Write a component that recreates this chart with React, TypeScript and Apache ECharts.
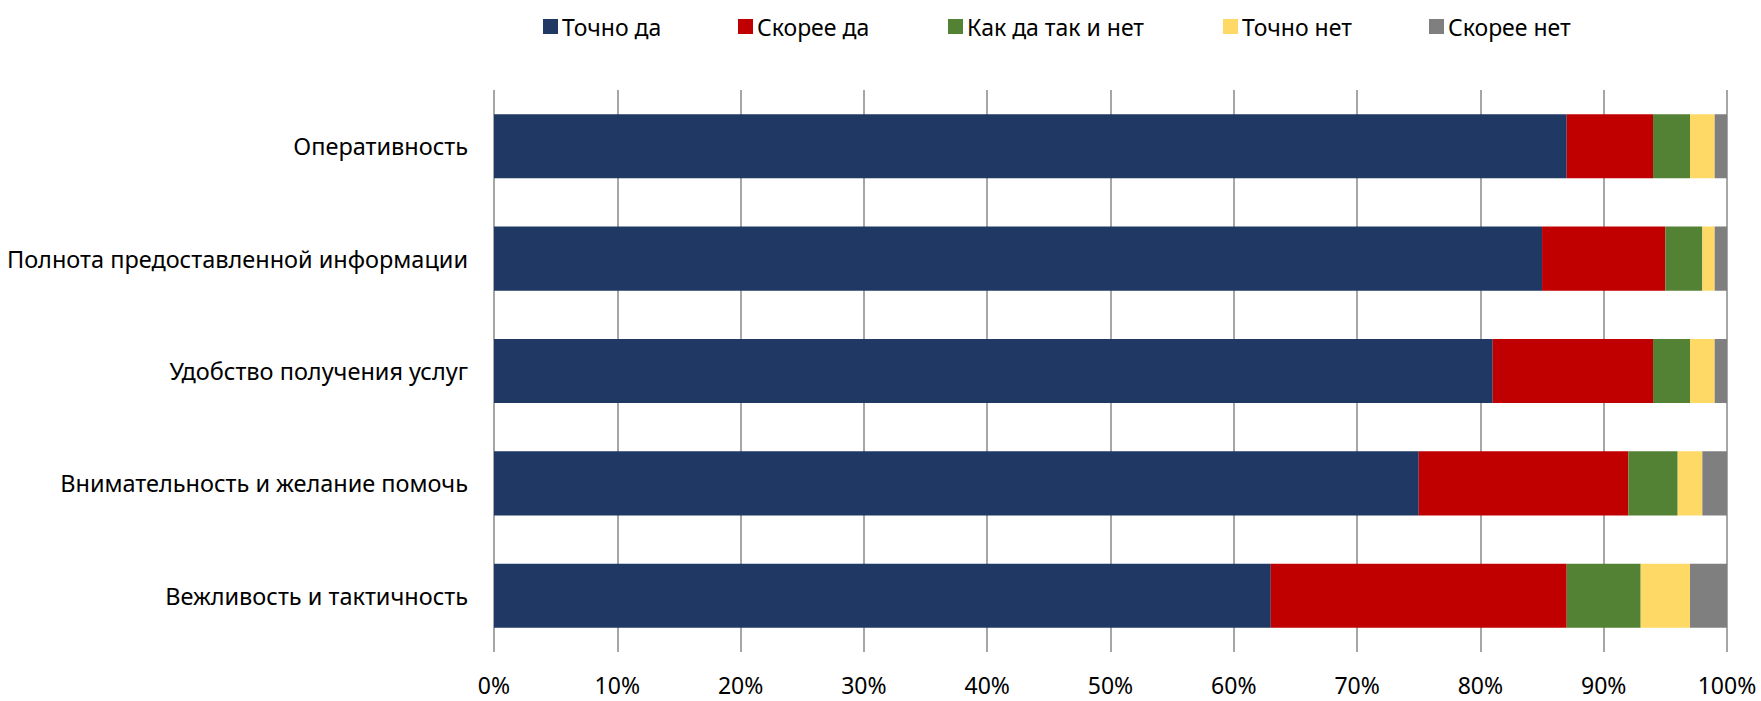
import React, { useEffect, useRef } from "react";
import * as echarts from "echarts";

const categories = [
  "Оперативность",
  "Полнота предоставленной информации",
  "Удобство получения услуг",
  "Внимательность и желание помочь",
  "Вежливость и тактичность",
];

const seriesNames = ["Точно да", "Скорее да", "Как да так и нет", "Точно нет", "Скорее нет"];

const exactlyYes = [87, 85, 81, 75, 63];
const ratherYes = [7, 10, 13, 17, 24];
const neither = [3, 3, 3, 4, 6];
const exactlyNo = [2, 1, 2, 2, 4];
const ratherNo = [1, 1, 1, 2, 3];

const seriesColors = ["#203864", "#C00000", "#548235", "#FFD966", "#7F7F7F"];
const legendLefts = [538, 733, 943, 1218, 1424];

const FONT = "'Noto Sans', 'Open Sans', sans-serif";

export default function App() {
  const ref = useRef<HTMLDivElement>(null);

  useEffect(() => {
    document.body.style.margin = "0";
    if (!ref.current) return;
    const chart = echarts.init(ref.current, null, { renderer: "svg" });
    const values = [exactlyYes, ratherYes, neither, exactlyNo, ratherNo];
    chart.setOption({
      animation: false,
      backgroundColor: "#ffffff",
      textStyle: { fontFamily: FONT },
      legend: seriesNames.map((name, i) => ({
        data: [name],
        left: legendLefts[i],
        top: 10,
        itemWidth: 15,
        itemHeight: 15,
        itemGap: 0,
        icon: "rect",
        textStyle: { fontSize: 23, color: "#000", fontFamily: FONT, lineHeight: 23, padding: [0, 0, 0, -1] },
      })),
      grid: { left: 494, right: 34, top: 90, bottom: 49, containLabel: false },
      xAxis: {
        type: "value",
        min: 0,
        max: 100,
        interval: 10,
        axisLine: { show: false },
        axisTick: { show: false },
        axisLabel: {
          formatter: "{value}%",
          fontSize: 23,
          lineHeight: 23,
          color: "#000",
          fontFamily: FONT,
          margin: 21,
        },
        splitLine: { show: true, lineStyle: { color: "#888888", width: 1.5 } },
      },
      yAxis: {
        type: "category",
        data: categories,
        inverse: true,
        axisLine: { show: false },
        axisTick: { show: false },
        axisLabel: { fontSize: 23.5, color: "#000", fontFamily: FONT, margin: 26 },
        splitLine: { show: false },
      },
      series: seriesNames.map((name, i) => ({
        name,
        type: "bar",
        stack: "total",
        barCategoryGap: "43%",
        data: values[i],
        itemStyle: { color: seriesColors[i] },
        emphasis: { disabled: true },
      })),
    });
    return () => chart.dispose();
  }, []);

  return <div ref={ref} style={{ width: 1761, height: 701 }} />;
}
